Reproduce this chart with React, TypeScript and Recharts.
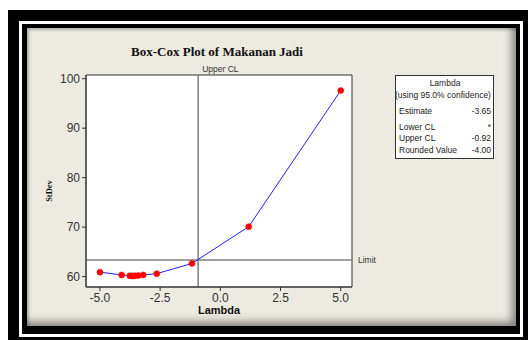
import React from 'react';
import { ComposedChart, Line, XAxis, YAxis, ReferenceLine, ReferenceArea } from 'recharts';

const lambdaValues = [-5, -4.1, -3.76, -3.67, -3.62, -3.54, -3.41, -3.2, -2.64, -1.18, 1.18, 5];
const stdevValues = [60.9, 60.34, 60.18, 60.14, 60.14, 60.15, 60.2, 60.34, 60.6, 62.65, 70.1, 97.6];
const xTicks = [-5, -2.5, 0, 2.5, 5];
const yTicks = [60, 70, 80, 90, 100];
const xDomain: [number, number] = [-5.58, 5.47];
const yDomain: [number, number] = [57.9, 100.75];
const upperCL = -0.92;
const limitValue = 63.37;
const legendTitle = 'Lambda';
const legendSubtitle = '(using 95.0% confidence)';
const legendLabels = ['Estimate', 'Lower CL', 'Upper CL', 'Rounded Value'];
const legendValues = ['-3.65', '*', '-0.92', '-4.00'];

const data = lambdaValues.map((l, i) => ({ lambda: l, stdev: stdevValues[i] }));

const SANS = '"Liberation Sans", Arial, sans-serif';
const SERIF = '"Liberation Serif", "Times New Roman", serif';

const legendBaselines = [113.5, 129.5, 140.5, 152.5];

export default function App() {
  return (
    <div style={{ position: 'absolute', left: 0, top: 0, width: 528, height: 340, overflow: 'hidden', background: '#fff' }}>
      <div style={{ position: 'absolute', left: 8, top: 10, width: 520, height: 330, background: '#000' }} />
      <div style={{ position: 'absolute', left: 19, top: 21, width: 504, height: 316, border: '3px solid #fff', boxSizing: 'border-box' }} />
      <div
        style={{
          position: 'absolute',
          left: 27,
          top: 28,
          width: 489,
          height: 298,
          background: '#EDEAE1',
          boxShadow: 'inset -7px -7px 8px -3px rgba(0,0,0,0.45), inset 2px 2px 3px rgba(0,0,0,0.25)',
        }}
      />
      <div style={{ position: 'absolute', left: 0, top: 0 }}>
        <ComposedChart width={528} height={340} data={data} margin={{ top: 75, right: 176, bottom: 23, left: 46 }}>
          <ReferenceArea
            x1={xDomain[0]}
            x2={xDomain[1]}
            y1={yDomain[0]}
            y2={yDomain[1]}
            fill="#ffffff"
            fillOpacity={1}
            stroke="#333"
            strokeWidth={1}
            ifOverflow="visible"
          />
          <XAxis
            dataKey="lambda"
            type="number"
            domain={xDomain}
            ticks={xTicks}
            allowDataOverflow
            height={30}
            tickSize={4}
            tickFormatter={(v: number) => v.toFixed(1)}
            tick={{ fontSize: 12, fill: '#333', fontFamily: SANS }}
            axisLine={{ stroke: '#333' }}
            tickLine={{ stroke: '#333' }}
          />
          <YAxis
            dataKey="stdev"
            type="number"
            domain={yDomain}
            ticks={yTicks}
            allowDataOverflow
            width={40}
            tickSize={4}
            tick={{ fontSize: 12, fill: '#333', fontFamily: SANS }}
            axisLine={{ stroke: '#333' }}
            tickLine={{ stroke: '#333' }}
          />
          <ReferenceLine
            x={upperCL}
            stroke="#808080"
            strokeWidth={1.5}
            label={(props: any) => {
              const vb = props.viewBox || {};
              return (
                <text x={(vb.x ?? 0) + 4} y={(vb.y ?? 0) - 3} fontSize={8.5} fill="#333" fontFamily={SANS} textAnchor="start">
                  Upper CL
                </text>
              );
            }}
          />
          <ReferenceLine
            y={limitValue}
            stroke="#808080"
            strokeWidth={1.5}
            label={{ value: 'Limit', position: 'right', offset: 6, fontSize: 8.5, fill: '#333', fontFamily: SANS }}
          />
          <Line
            type="linear"
            dataKey="stdev"
            stroke="#1f1fff"
            strokeWidth={1}
            dot={{ r: 3, fill: '#ff0000', stroke: '#ff0000', strokeWidth: 0.5 }}
            isAnimationActive={false}
          />
        </ComposedChart>
      </div>
      <svg width={528} height={340} style={{ position: 'absolute', left: 0, top: 0, pointerEvents: 'none' }}>
        <text x={217} y={56} textAnchor="middle" fontFamily={SERIF} fontWeight="bold" fontSize={13} fill="#111">
          Box-Cox Plot of Makanan Jadi
        </text>
        <text
          x={0}
          y={0}
          transform="translate(52,191) rotate(-90)"
          textAnchor="middle"
          fontFamily={SERIF}
          fontWeight="bold"
          fontSize={8.5}
          fill="#111"
        >
          StDev
        </text>
        <text x={219} y={314} textAnchor="middle" fontFamily={SANS} fontWeight="bold" fontSize={11} fill="#111">
          Lambda
        </text>
        <rect x={395.5} y={75.5} width={98} height={83} fill="#fff" stroke="#333" strokeWidth={1} />
        <text x={445} y={86} textAnchor="middle" fontFamily={SANS} fontSize={8.5} fill="#222">
          {legendTitle}
        </text>
        <text x={443} y={98} textAnchor="middle" fontFamily={SANS} fontSize={8.5} fill="#222">
          {legendSubtitle}
        </text>
        {legendLabels.map((lab, i) => (
          <text key={'l' + i} x={399} y={legendBaselines[i]} fontFamily={SANS} fontSize={8.5} fill="#222">
            {lab}
          </text>
        ))}
        {legendValues.map((v, i) => (
          <text key={'v' + i} x={491} y={legendBaselines[i]} textAnchor="end" fontFamily={SANS} fontSize={8.5} fill="#222">
            {v}
          </text>
        ))}
      </svg>
    </div>
  );
}
